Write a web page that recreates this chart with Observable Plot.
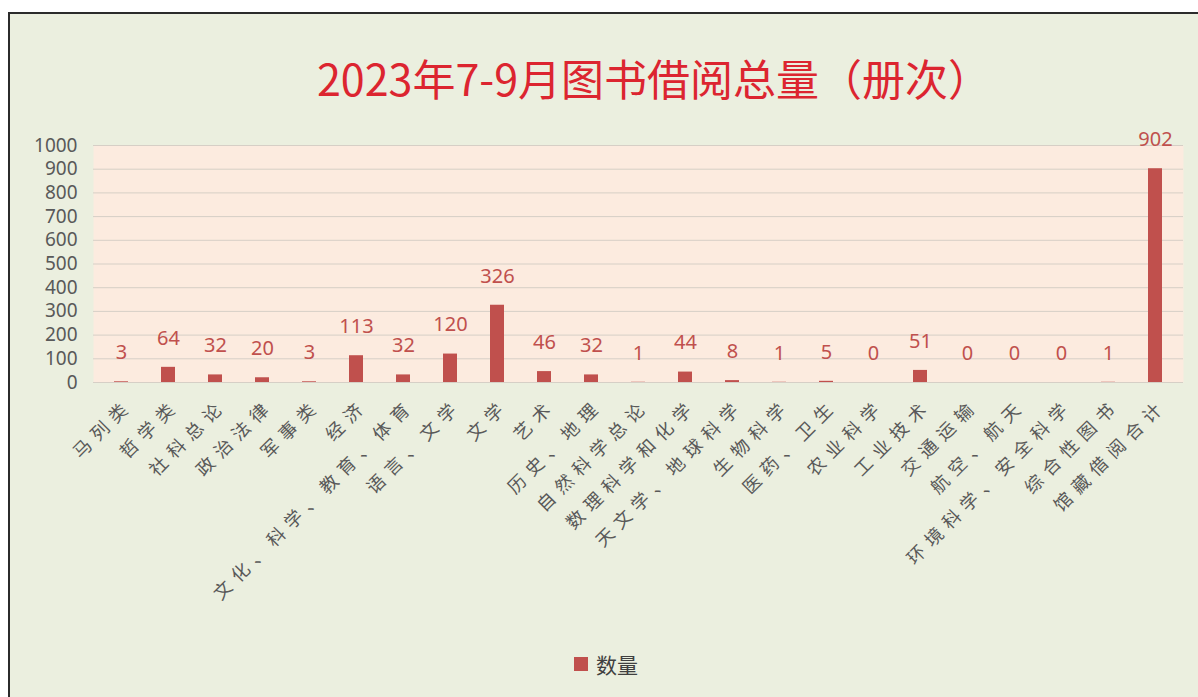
<!DOCTYPE html>
<html><head><meta charset="utf-8">
<script src="https://cdn.jsdelivr.net/npm/d3@7"></script>
<script src="https://cdn.jsdelivr.net/npm/@observablehq/plot@0.6"></script>
<style>
body{margin:0;background:#fff;width:1198px;height:697px;overflow:hidden;position:relative;font-family:"Noto Sans CJK SC","Noto Sans",sans-serif}
#frame{position:absolute;left:8px;top:12px;width:1190px;height:685px;background:#EBEFDF;border-left:2px solid #2b2b2b;border-top:2px solid #2b2b2b;box-sizing:border-box}
#title{position:absolute;left:154px;top:50px;width:1000px;text-align:center;font-size:43px;line-height:54px;color:#DC2530;font-family:"Noto Sans CJK SC",sans-serif}
#chart{position:absolute;left:0;top:120px}
#legend{position:absolute;left:574px;top:650px;height:28px;display:flex;align-items:center;font-size:21px;color:#404040}
#legend .sw{width:14px;height:14px;background:#C0504D;margin-right:8px}
#chart g[aria-label="x-axis tick label"] text{letter-spacing:7px}
</style></head>
<body>
<div id="frame"></div>
<div id="title">2023年7-9月图书借阅总量（册次）</div>
<div id="chart"></div>
<div id="legend"><div class="sw"></div><span>数量</span></div>
<script>
const categories = ["马列类","哲学类","社科总论","政治法律","军事类","经济","文化、科学、教育、体育","语言、文学","文学","艺术","历史、地理","自然科学总论","数理科学和化学","天文学、地球科学","生物科学","医药、卫生","农业科学","工业技术","交通运输","航空、航天","环境科学、安全科学","综合性图书","馆藏借阅合计"];
const values = [3,64,32,20,3,113,32,120,326,46,32,1,44,8,1,5,0,51,0,0,0,1,902];
const yTicks = [0,100,200,300,400,500,600,700,800,900,1000];
const data = categories.map((c,i)=>({category:c, value:values[i]}));

const chart = Plot.plot({
  width:1198, height:500,
  marginLeft:93, marginRight:15, marginTop:25, marginBottom:238,
  style:{background:"transparent", overflow:"visible", fontFamily:"'Noto Sans CJK SC','Noto Sans',sans-serif"},
  x:{domain:categories, paddingInner:0.7, paddingOuter:0.35, label:null},
  y:{domain:[0,1000], label:null},
  marks:[
    Plot.frame({fill:"#FCEBDF", stroke:null}),
    Plot.gridY(yTicks,{stroke:"#D6CFC6", strokeOpacity:1}),
    Plot.barY(data,{x:"category", y:"value", fill:"#C0504D"}),
    Plot.text(data,{x:"category", y:"value", text:d=>String(d.value), dy:-29, fill:"#C0504D", fontSize:20, fontFamily:"'Noto Sans',sans-serif"}),
    Plot.axisY(yTicks,{tickSize:0, tickPadding:16, fontSize:19, color:"#595959", fontFamily:"'Noto Sans',sans-serif", tickFormat:d=>String(d), label:null}),
    Plot.axisX({tickSize:0, tickRotate:-45, tickPadding:20, dx:8, fontSize:18, color:"#595959", label:null})
  ]
});
document.getElementById("chart").appendChild(chart);
</script>
</body></html>
